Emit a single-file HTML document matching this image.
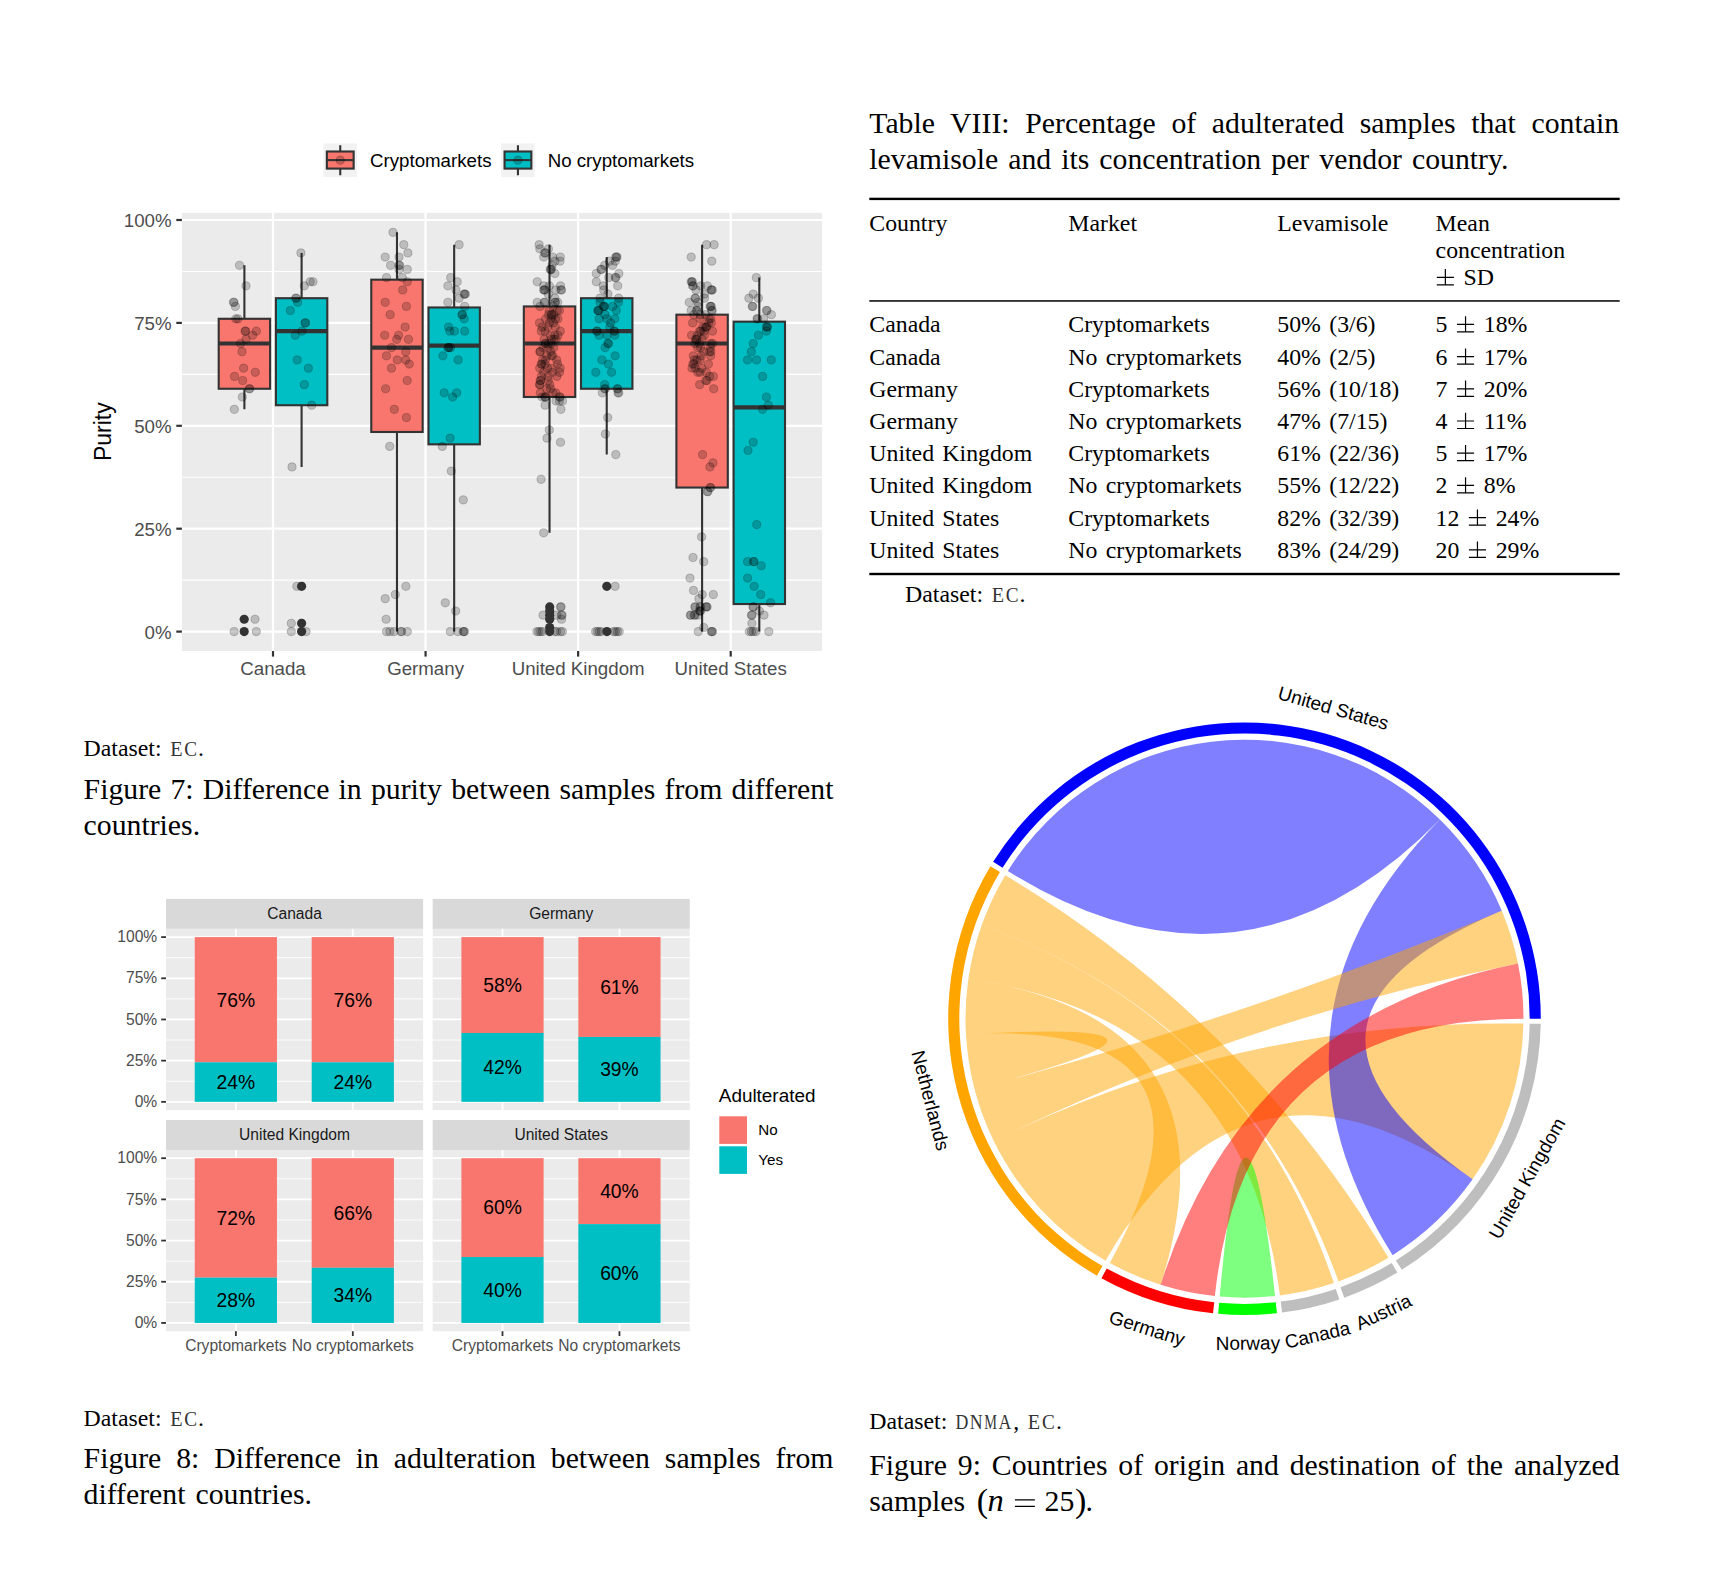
<!DOCTYPE html>
<html><head><meta charset="utf-8"><title>page</title><style>
html,body{margin:0;padding:0;background:#fff}
body{width:1720px;height:1585px;position:relative;overflow:hidden}
svg{position:absolute;left:0;top:0}
text{white-space:pre}
.se{font-family:"Liberation Serif", serif;fill:#000}
.sa{font-family:"Liberation Sans", sans-serif}
.mo{font-family:"Liberation Mono", monospace}
.c10{font-size:29.76px;word-spacing:2.6px}.c8{font-size:23.8px;word-spacing:2.35px}
.ax{font-size:18.7px;fill:#4d4d4d}.ax8{font-size:15.6px;fill:#4d4d4d}
</style></head><body>
<svg width="1720" height="1585" viewBox="0 0 1720 1585">
<g id="fig7">
<rect x="181.9" y="212.9" width="640.2" height="438.1" fill="#ebebeb"/>
<line x1="181.9" x2="822.1" y1="580.15" y2="580.15" stroke="#fff" stroke-width="1.1"/>
<line x1="181.9" x2="822.1" y1="477.25" y2="477.25" stroke="#fff" stroke-width="1.1"/>
<line x1="181.9" x2="822.1" y1="374.35" y2="374.35" stroke="#fff" stroke-width="1.1"/>
<line x1="181.9" x2="822.1" y1="271.45" y2="271.45" stroke="#fff" stroke-width="1.1"/>
<line x1="181.9" x2="822.1" y1="631.6" y2="631.6" stroke="#fff" stroke-width="2.2"/>
<line x1="181.9" x2="822.1" y1="528.7" y2="528.7" stroke="#fff" stroke-width="2.2"/>
<line x1="181.9" x2="822.1" y1="425.8" y2="425.8" stroke="#fff" stroke-width="2.2"/>
<line x1="181.9" x2="822.1" y1="322.9" y2="322.9" stroke="#fff" stroke-width="2.2"/>
<line x1="181.9" x2="822.1" y1="220" y2="220" stroke="#fff" stroke-width="2.2"/>
<line x1="273" x2="273" y1="212.9" y2="651" stroke="#fff" stroke-width="2.2"/>
<line x1="425.57" x2="425.57" y1="212.9" y2="651" stroke="#fff" stroke-width="2.2"/>
<line x1="578.13" x2="578.13" y1="212.9" y2="651" stroke="#fff" stroke-width="2.2"/>
<line x1="730.7" x2="730.7" y1="212.9" y2="651" stroke="#fff" stroke-width="2.2"/>
<path d="M244.4 265.28V318.78M244.4 388.76V409.34" stroke="#333" stroke-width="2.1" fill="none"/>
<rect x="218.7" y="318.78" width="51.4" height="69.97" fill="#F8766D" stroke="#333" stroke-width="2.1"/>
<line x1="218.7" x2="270.1" y1="343.48" y2="343.48" stroke="#333" stroke-width="4.2"/>
<path d="M301.6 252.93V298.2M301.6 405.22V466.96" stroke="#333" stroke-width="2.1" fill="none"/>
<rect x="275.9" y="298.2" width="51.4" height="107.02" fill="#00BFC4" stroke="#333" stroke-width="2.1"/>
<line x1="275.9" x2="327.3" y1="331.13" y2="331.13" stroke="#333" stroke-width="4.2"/>
<path d="M396.97 232.35V279.68M396.97 431.97V631.6" stroke="#333" stroke-width="2.1" fill="none"/>
<rect x="371.27" y="279.68" width="51.4" height="152.29" fill="#F8766D" stroke="#333" stroke-width="2.1"/>
<line x1="371.27" x2="422.67" y1="347.6" y2="347.6" stroke="#333" stroke-width="4.2"/>
<path d="M454.17 244.7V307.47M454.17 444.32V631.6" stroke="#333" stroke-width="2.1" fill="none"/>
<rect x="428.47" y="307.47" width="51.4" height="136.86" fill="#00BFC4" stroke="#333" stroke-width="2.1"/>
<line x1="428.47" x2="479.87" y1="345.54" y2="345.54" stroke="#333" stroke-width="4.2"/>
<path d="M549.53 244.7V306.44M549.53 396.99V532.82" stroke="#333" stroke-width="2.1" fill="none"/>
<rect x="523.83" y="306.44" width="51.4" height="90.55" fill="#F8766D" stroke="#333" stroke-width="2.1"/>
<line x1="523.83" x2="575.23" y1="343.48" y2="343.48" stroke="#333" stroke-width="4.2"/>
<path d="M606.73 257.04V298.2M606.73 388.76V454.61" stroke="#333" stroke-width="2.1" fill="none"/>
<rect x="581.03" y="298.2" width="51.4" height="90.55" fill="#00BFC4" stroke="#333" stroke-width="2.1"/>
<line x1="581.03" x2="632.43" y1="331.13" y2="331.13" stroke="#333" stroke-width="4.2"/>
<path d="M702.1 244.7V314.67M702.1 487.54V631.6" stroke="#333" stroke-width="2.1" fill="none"/>
<rect x="676.4" y="314.67" width="51.4" height="172.87" fill="#F8766D" stroke="#333" stroke-width="2.1"/>
<line x1="676.4" x2="727.8" y1="343.48" y2="343.48" stroke="#333" stroke-width="4.2"/>
<path d="M759.3 277.62V321.67M759.3 604.02V631.6" stroke="#333" stroke-width="2.1" fill="none"/>
<rect x="733.6" y="321.67" width="51.4" height="282.36" fill="#00BFC4" stroke="#333" stroke-width="2.1"/>
<line x1="733.6" x2="785" y1="407.28" y2="407.28" stroke="#333" stroke-width="4.2"/>
<g fill="#000" fill-opacity="0.2" stroke="#000" stroke-opacity="0.2" stroke-width="1">
<circle cx="239.5" cy="265.28" r="4.1"/>
<circle cx="246" cy="285.86" r="4.1"/>
<circle cx="233.4" cy="302.32" r="4.1"/>
<circle cx="234" cy="302.32" r="4.1"/>
<circle cx="235.4" cy="306.44" r="4.1"/>
<circle cx="235.8" cy="318.78" r="4.1"/>
<circle cx="238" cy="318.78" r="4.1"/>
<circle cx="245.1" cy="331.13" r="4.1"/>
<circle cx="245.7" cy="331.13" r="4.1"/>
<circle cx="256.3" cy="331.13" r="4.1"/>
<circle cx="252.6" cy="335.25" r="4.1"/>
<circle cx="246" cy="339.36" r="4.1"/>
<circle cx="240.5" cy="343.48" r="4.1"/>
<circle cx="242" cy="351.71" r="4.1"/>
<circle cx="243.6" cy="368.18" r="4.1"/>
<circle cx="255.3" cy="372.29" r="4.1"/>
<circle cx="234.5" cy="376.41" r="4.1"/>
<circle cx="242.7" cy="380.52" r="4.1"/>
<circle cx="249.2" cy="388.76" r="4.1"/>
<circle cx="249.8" cy="388.76" r="4.1"/>
<circle cx="242.3" cy="396.99" r="4.1"/>
<circle cx="234.3" cy="409.34" r="4.1"/>
<circle cx="255" cy="619.25" r="4.1"/>
<circle cx="234.1" cy="631.6" r="4.1"/>
<circle cx="256.3" cy="631.6" r="4.1"/>
<circle cx="300.9" cy="252.93" r="4.1"/>
<circle cx="310.2" cy="281.74" r="4.1"/>
<circle cx="313" cy="281.74" r="4.1"/>
<circle cx="304.3" cy="285.86" r="4.1"/>
<circle cx="295.7" cy="298.2" r="4.1"/>
<circle cx="296.3" cy="298.2" r="4.1"/>
<circle cx="297.6" cy="302.32" r="4.1"/>
<circle cx="290.3" cy="310.55" r="4.1"/>
<circle cx="305" cy="322.9" r="4.1"/>
<circle cx="305.6" cy="322.9" r="4.1"/>
<circle cx="301.9" cy="331.13" r="4.1"/>
<circle cx="295.3" cy="335.25" r="4.1"/>
<circle cx="297.2" cy="359.94" r="4.1"/>
<circle cx="308.4" cy="368.18" r="4.1"/>
<circle cx="304.3" cy="384.64" r="4.1"/>
<circle cx="311.7" cy="405.22" r="4.1"/>
<circle cx="292" cy="466.96" r="4.1"/>
<circle cx="296.8" cy="586.32" r="4.1"/>
<circle cx="291.3" cy="623.37" r="4.1"/>
<circle cx="291.3" cy="631.6" r="4.1"/>
<circle cx="306.1" cy="631.6" r="4.1"/>
<circle cx="393" cy="232.35" r="4.1"/>
<circle cx="403.8" cy="244.7" r="4.1"/>
<circle cx="407.9" cy="252.93" r="4.1"/>
<circle cx="385.2" cy="257.04" r="4.1"/>
<circle cx="399" cy="257.04" r="4.1"/>
<circle cx="390.6" cy="265.28" r="4.1"/>
<circle cx="399" cy="265.28" r="4.1"/>
<circle cx="399.6" cy="265.28" r="4.1"/>
<circle cx="407.3" cy="269.39" r="4.1"/>
<circle cx="399" cy="269.39" r="4.1"/>
<circle cx="386.5" cy="277.62" r="4.1"/>
<circle cx="402.3" cy="277.62" r="4.1"/>
<circle cx="407.3" cy="281.74" r="4.1"/>
<circle cx="402.7" cy="289.97" r="4.1"/>
<circle cx="385.2" cy="302.32" r="4.1"/>
<circle cx="406.4" cy="306.44" r="4.1"/>
<circle cx="390.2" cy="314.67" r="4.1"/>
<circle cx="405.1" cy="327.02" r="4.1"/>
<circle cx="384.7" cy="335.25" r="4.1"/>
<circle cx="398.6" cy="335.25" r="4.1"/>
<circle cx="396.7" cy="339.36" r="4.1"/>
<circle cx="408.5" cy="339.36" r="4.1"/>
<circle cx="391.5" cy="347.6" r="4.1"/>
<circle cx="405.7" cy="351.71" r="4.1"/>
<circle cx="386.5" cy="355.83" r="4.1"/>
<circle cx="397.3" cy="359.94" r="4.1"/>
<circle cx="405.7" cy="359.94" r="4.1"/>
<circle cx="409.2" cy="364.06" r="4.1"/>
<circle cx="391.5" cy="368.18" r="4.1"/>
<circle cx="407.2" cy="380.52" r="4.1"/>
<circle cx="385.6" cy="388.76" r="4.1"/>
<circle cx="394.3" cy="409.34" r="4.1"/>
<circle cx="406.4" cy="417.57" r="4.1"/>
<circle cx="389.7" cy="446.38" r="4.1"/>
<circle cx="405.9" cy="586.32" r="4.1"/>
<circle cx="395.3" cy="594.56" r="4.1"/>
<circle cx="385.2" cy="598.67" r="4.1"/>
<circle cx="386.1" cy="619.25" r="4.1"/>
<circle cx="386.5" cy="631.6" r="4.1"/>
<circle cx="389.9" cy="631.6" r="4.1"/>
<circle cx="394" cy="631.6" r="4.1"/>
<circle cx="401" cy="631.6" r="4.1"/>
<circle cx="401.6" cy="631.6" r="4.1"/>
<circle cx="407.3" cy="631.6" r="4.1"/>
<circle cx="459.1" cy="244.7" r="4.1"/>
<circle cx="450.7" cy="277.62" r="4.1"/>
<circle cx="457.2" cy="281.74" r="4.1"/>
<circle cx="447.9" cy="285.86" r="4.1"/>
<circle cx="455.9" cy="289.97" r="4.1"/>
<circle cx="464.1" cy="294.09" r="4.1"/>
<circle cx="464.7" cy="294.09" r="4.1"/>
<circle cx="465.3" cy="294.09" r="4.1"/>
<circle cx="459.1" cy="298.2" r="4.1"/>
<circle cx="447.9" cy="302.32" r="4.1"/>
<circle cx="464.7" cy="306.44" r="4.1"/>
<circle cx="461.9" cy="314.67" r="4.1"/>
<circle cx="462.5" cy="314.67" r="4.1"/>
<circle cx="464.1" cy="318.78" r="4.1"/>
<circle cx="448.5" cy="327.02" r="4.1"/>
<circle cx="449.8" cy="331.13" r="4.1"/>
<circle cx="454.4" cy="331.13" r="4.1"/>
<circle cx="464.7" cy="331.13" r="4.1"/>
<circle cx="447.9" cy="347.6" r="4.1"/>
<circle cx="448.5" cy="347.6" r="4.1"/>
<circle cx="449.1" cy="347.6" r="4.1"/>
<circle cx="450.7" cy="347.6" r="4.1"/>
<circle cx="442.9" cy="355.83" r="4.1"/>
<circle cx="458.1" cy="359.94" r="4.1"/>
<circle cx="444.2" cy="392.87" r="4.1"/>
<circle cx="456.7" cy="392.87" r="4.1"/>
<circle cx="452.6" cy="396.99" r="4.1"/>
<circle cx="450.1" cy="438.15" r="4.1"/>
<circle cx="442.3" cy="446.38" r="4.1"/>
<circle cx="451.3" cy="471.08" r="4.1"/>
<circle cx="463.3" cy="499.89" r="4.1"/>
<circle cx="445.3" cy="602.79" r="4.1"/>
<circle cx="455.7" cy="611.02" r="4.1"/>
<circle cx="450.3" cy="631.6" r="4.1"/>
<circle cx="457.8" cy="631.6" r="4.1"/>
<circle cx="463.2" cy="631.6" r="4.1"/>
<circle cx="463.8" cy="631.6" r="4.1"/>
<circle cx="464.4" cy="631.6" r="4.1"/>
<circle cx="539.1" cy="244.7" r="4.1"/>
<circle cx="539.8" cy="248.81" r="4.1"/>
<circle cx="548.4" cy="248.81" r="4.1"/>
<circle cx="544.7" cy="252.93" r="4.1"/>
<circle cx="545.3" cy="252.93" r="4.1"/>
<circle cx="543.7" cy="257.04" r="4.1"/>
<circle cx="552.6" cy="257.04" r="4.1"/>
<circle cx="560.3" cy="257.04" r="4.1"/>
<circle cx="560" cy="261.16" r="4.1"/>
<circle cx="554.9" cy="261.16" r="4.1"/>
<circle cx="552.1" cy="265.28" r="4.1"/>
<circle cx="550.2" cy="269.39" r="4.1"/>
<circle cx="550.8" cy="269.39" r="4.1"/>
<circle cx="551.4" cy="269.39" r="4.1"/>
<circle cx="554.9" cy="273.51" r="4.1"/>
<circle cx="537.2" cy="281.74" r="4.1"/>
<circle cx="543.7" cy="285.86" r="4.1"/>
<circle cx="549.3" cy="285.86" r="4.1"/>
<circle cx="560.5" cy="285.86" r="4.1"/>
<circle cx="543.7" cy="289.97" r="4.1"/>
<circle cx="544.3" cy="289.97" r="4.1"/>
<circle cx="544.9" cy="289.97" r="4.1"/>
<circle cx="555.8" cy="289.97" r="4.1"/>
<circle cx="560.9" cy="289.97" r="4.1"/>
<circle cx="561.5" cy="289.97" r="4.1"/>
<circle cx="548.4" cy="294.09" r="4.1"/>
<circle cx="554.9" cy="298.2" r="4.1"/>
<circle cx="537.2" cy="302.32" r="4.1"/>
<circle cx="544.2" cy="302.32" r="4.1"/>
<circle cx="544.8" cy="302.32" r="4.1"/>
<circle cx="554.9" cy="302.32" r="4.1"/>
<circle cx="555.5" cy="302.32" r="4.1"/>
<circle cx="557.7" cy="302.32" r="4.1"/>
<circle cx="544.7" cy="396.99" r="4.1"/>
<circle cx="545.3" cy="396.99" r="4.1"/>
<circle cx="555.8" cy="392.87" r="4.1"/>
<circle cx="559.5" cy="396.99" r="4.1"/>
<circle cx="560.1" cy="396.99" r="4.1"/>
<circle cx="556" cy="401.1" r="4.1"/>
<circle cx="559.5" cy="401.1" r="4.1"/>
<circle cx="562.5" cy="401.1" r="4.1"/>
<circle cx="545.1" cy="405.22" r="4.1"/>
<circle cx="560.9" cy="409.34" r="4.1"/>
<circle cx="549.3" cy="429.92" r="4.1"/>
<circle cx="547" cy="438.15" r="4.1"/>
<circle cx="560.5" cy="442.26" r="4.1"/>
<circle cx="541.1" cy="479.31" r="4.1"/>
<circle cx="543.7" cy="532.82" r="4.1"/>
<circle cx="560.5" cy="606.9" r="4.1"/>
<circle cx="561.1" cy="606.9" r="4.1"/>
<circle cx="543" cy="615.14" r="4.1"/>
<circle cx="556.8" cy="615.14" r="4.1"/>
<circle cx="561.5" cy="615.14" r="4.1"/>
<circle cx="562.1" cy="615.14" r="4.1"/>
<circle cx="561.5" cy="619.25" r="4.1"/>
<circle cx="536.9" cy="631.6" r="4.1"/>
<circle cx="538.8" cy="631.6" r="4.1"/>
<circle cx="540.7" cy="631.6" r="4.1"/>
<circle cx="542.6" cy="631.6" r="4.1"/>
<circle cx="554.9" cy="631.6" r="4.1"/>
<circle cx="556.8" cy="631.6" r="4.1"/>
<circle cx="560.5" cy="631.6" r="4.1"/>
<circle cx="562.4" cy="631.6" r="4.1"/>
<circle cx="545.82" cy="396.99" r="4.1"/>
<circle cx="542.02" cy="396.99" r="4.1"/>
<circle cx="553.02" cy="392.87" r="4.1"/>
<circle cx="540.29" cy="392.87" r="4.1"/>
<circle cx="550.49" cy="388.76" r="4.1"/>
<circle cx="546.75" cy="388.76" r="4.1"/>
<circle cx="539.98" cy="384.64" r="4.1"/>
<circle cx="549.86" cy="384.64" r="4.1"/>
<circle cx="539.52" cy="384.64" r="4.1"/>
<circle cx="548.24" cy="380.52" r="4.1"/>
<circle cx="540.24" cy="380.52" r="4.1"/>
<circle cx="540.7" cy="380.52" r="4.1"/>
<circle cx="548.04" cy="376.41" r="4.1"/>
<circle cx="556.89" cy="376.41" r="4.1"/>
<circle cx="541.42" cy="376.41" r="4.1"/>
<circle cx="543.61" cy="372.29" r="4.1"/>
<circle cx="552.5" cy="372.29" r="4.1"/>
<circle cx="559.55" cy="372.29" r="4.1"/>
<circle cx="551.4" cy="368.18" r="4.1"/>
<circle cx="547.43" cy="368.18" r="4.1"/>
<circle cx="560.18" cy="368.18" r="4.1"/>
<circle cx="539.72" cy="368.18" r="4.1"/>
<circle cx="557.59" cy="364.06" r="4.1"/>
<circle cx="545.07" cy="364.06" r="4.1"/>
<circle cx="541.87" cy="364.06" r="4.1"/>
<circle cx="541.29" cy="364.06" r="4.1"/>
<circle cx="545.49" cy="359.94" r="4.1"/>
<circle cx="556.65" cy="359.94" r="4.1"/>
<circle cx="542.68" cy="359.94" r="4.1"/>
<circle cx="551.5" cy="355.83" r="4.1"/>
<circle cx="552.76" cy="355.83" r="4.1"/>
<circle cx="546.89" cy="355.83" r="4.1"/>
<circle cx="550.75" cy="351.71" r="4.1"/>
<circle cx="540.08" cy="351.71" r="4.1"/>
<circle cx="540.01" cy="351.71" r="4.1"/>
<circle cx="543.23" cy="347.6" r="4.1"/>
<circle cx="553.67" cy="347.6" r="4.1"/>
<circle cx="548.11" cy="347.6" r="4.1"/>
<circle cx="545.61" cy="343.48" r="4.1"/>
<circle cx="551.58" cy="343.48" r="4.1"/>
<circle cx="548.67" cy="343.48" r="4.1"/>
<circle cx="545.29" cy="343.48" r="4.1"/>
<circle cx="556.18" cy="339.36" r="4.1"/>
<circle cx="554.08" cy="339.36" r="4.1"/>
<circle cx="544.07" cy="339.36" r="4.1"/>
<circle cx="551.34" cy="339.36" r="4.1"/>
<circle cx="550.25" cy="335.25" r="4.1"/>
<circle cx="557.95" cy="335.25" r="4.1"/>
<circle cx="554.75" cy="335.25" r="4.1"/>
<circle cx="545.03" cy="331.13" r="4.1"/>
<circle cx="560.26" cy="331.13" r="4.1"/>
<circle cx="541.3" cy="331.13" r="4.1"/>
<circle cx="547.9" cy="327.02" r="4.1"/>
<circle cx="555.36" cy="327.02" r="4.1"/>
<circle cx="542.04" cy="327.02" r="4.1"/>
<circle cx="549.46" cy="322.9" r="4.1"/>
<circle cx="539.56" cy="322.9" r="4.1"/>
<circle cx="553.4" cy="322.9" r="4.1"/>
<circle cx="555.52" cy="318.78" r="4.1"/>
<circle cx="551.31" cy="318.78" r="4.1"/>
<circle cx="557.96" cy="318.78" r="4.1"/>
<circle cx="545.6" cy="318.78" r="4.1"/>
<circle cx="554" cy="314.67" r="4.1"/>
<circle cx="551.78" cy="314.67" r="4.1"/>
<circle cx="551.46" cy="314.67" r="4.1"/>
<circle cx="548.74" cy="314.67" r="4.1"/>
<circle cx="557.18" cy="310.55" r="4.1"/>
<circle cx="559.48" cy="310.55" r="4.1"/>
<circle cx="549.13" cy="310.55" r="4.1"/>
<circle cx="553.31" cy="306.44" r="4.1"/>
<circle cx="540.03" cy="306.44" r="4.1"/>
<circle cx="615.8" cy="257.04" r="4.1"/>
<circle cx="616.4" cy="257.04" r="4.1"/>
<circle cx="617" cy="257.04" r="4.1"/>
<circle cx="609.5" cy="261.16" r="4.1"/>
<circle cx="615.3" cy="261.16" r="4.1"/>
<circle cx="604.7" cy="265.28" r="4.1"/>
<circle cx="612.6" cy="265.28" r="4.1"/>
<circle cx="600.9" cy="269.39" r="4.1"/>
<circle cx="601.5" cy="269.39" r="4.1"/>
<circle cx="596.3" cy="273.51" r="4.1"/>
<circle cx="618.9" cy="273.51" r="4.1"/>
<circle cx="608.8" cy="277.62" r="4.1"/>
<circle cx="615.3" cy="277.62" r="4.1"/>
<circle cx="615.9" cy="277.62" r="4.1"/>
<circle cx="596.3" cy="281.74" r="4.1"/>
<circle cx="603.3" cy="285.86" r="4.1"/>
<circle cx="617.7" cy="285.86" r="4.1"/>
<circle cx="603.7" cy="289.97" r="4.1"/>
<circle cx="607.9" cy="294.09" r="4.1"/>
<circle cx="600" cy="298.2" r="4.1"/>
<circle cx="618.6" cy="298.2" r="4.1"/>
<circle cx="600" cy="302.32" r="4.1"/>
<circle cx="618.6" cy="302.32" r="4.1"/>
<circle cx="603.3" cy="306.44" r="4.1"/>
<circle cx="603.9" cy="306.44" r="4.1"/>
<circle cx="604.5" cy="306.44" r="4.1"/>
<circle cx="597.7" cy="310.55" r="4.1"/>
<circle cx="598.3" cy="310.55" r="4.1"/>
<circle cx="598.9" cy="310.55" r="4.1"/>
<circle cx="612.6" cy="306.44" r="4.1"/>
<circle cx="616.3" cy="310.55" r="4.1"/>
<circle cx="605.1" cy="314.67" r="4.1"/>
<circle cx="599.1" cy="318.78" r="4.1"/>
<circle cx="607" cy="318.78" r="4.1"/>
<circle cx="614.9" cy="318.78" r="4.1"/>
<circle cx="610.7" cy="322.9" r="4.1"/>
<circle cx="609.8" cy="327.02" r="4.1"/>
<circle cx="596.7" cy="331.13" r="4.1"/>
<circle cx="597.3" cy="331.13" r="4.1"/>
<circle cx="614" cy="331.13" r="4.1"/>
<circle cx="614.6" cy="331.13" r="4.1"/>
<circle cx="599.1" cy="335.25" r="4.1"/>
<circle cx="607" cy="335.25" r="4.1"/>
<circle cx="614.9" cy="335.25" r="4.1"/>
<circle cx="607.9" cy="343.48" r="4.1"/>
<circle cx="608.5" cy="343.48" r="4.1"/>
<circle cx="605.1" cy="347.6" r="4.1"/>
<circle cx="615.1" cy="355.83" r="4.1"/>
<circle cx="601.9" cy="359.94" r="4.1"/>
<circle cx="608.4" cy="364.06" r="4.1"/>
<circle cx="595.8" cy="372.29" r="4.1"/>
<circle cx="611.6" cy="372.29" r="4.1"/>
<circle cx="604.7" cy="384.64" r="4.1"/>
<circle cx="604.7" cy="388.76" r="4.1"/>
<circle cx="605.3" cy="388.76" r="4.1"/>
<circle cx="617.2" cy="388.76" r="4.1"/>
<circle cx="617.8" cy="388.76" r="4.1"/>
<circle cx="602.3" cy="392.87" r="4.1"/>
<circle cx="618.1" cy="392.87" r="4.1"/>
<circle cx="618.7" cy="392.87" r="4.1"/>
<circle cx="607.7" cy="417.57" r="4.1"/>
<circle cx="605.4" cy="434.03" r="4.1"/>
<circle cx="615.8" cy="454.61" r="4.1"/>
<circle cx="615.1" cy="586.32" r="4.1"/>
<circle cx="595.6" cy="631.6" r="4.1"/>
<circle cx="597.4" cy="631.6" r="4.1"/>
<circle cx="599.3" cy="631.6" r="4.1"/>
<circle cx="601.2" cy="631.6" r="4.1"/>
<circle cx="613.5" cy="631.6" r="4.1"/>
<circle cx="615.4" cy="631.6" r="4.1"/>
<circle cx="617.3" cy="631.6" r="4.1"/>
<circle cx="619.2" cy="631.6" r="4.1"/>
<circle cx="706.6" cy="244.7" r="4.1"/>
<circle cx="714.1" cy="244.7" r="4.1"/>
<circle cx="691.2" cy="257.04" r="4.1"/>
<circle cx="711.8" cy="261.16" r="4.1"/>
<circle cx="691.2" cy="281.74" r="4.1"/>
<circle cx="691.8" cy="281.74" r="4.1"/>
<circle cx="692.4" cy="281.74" r="4.1"/>
<circle cx="692.6" cy="285.86" r="4.1"/>
<circle cx="693.2" cy="285.86" r="4.1"/>
<circle cx="700.7" cy="285.86" r="4.1"/>
<circle cx="707.3" cy="285.86" r="4.1"/>
<circle cx="711.1" cy="289.97" r="4.1"/>
<circle cx="711.7" cy="289.97" r="4.1"/>
<circle cx="712.3" cy="289.97" r="4.1"/>
<circle cx="696" cy="289.97" r="4.1"/>
<circle cx="704.5" cy="294.09" r="4.1"/>
<circle cx="695" cy="298.2" r="4.1"/>
<circle cx="695.6" cy="298.2" r="4.1"/>
<circle cx="704.5" cy="298.2" r="4.1"/>
<circle cx="689.3" cy="302.32" r="4.1"/>
<circle cx="697.8" cy="302.32" r="4.1"/>
<circle cx="710.1" cy="306.44" r="4.1"/>
<circle cx="710.7" cy="306.44" r="4.1"/>
<circle cx="711.3" cy="306.44" r="4.1"/>
<circle cx="697.8" cy="306.44" r="4.1"/>
<circle cx="691.2" cy="310.55" r="4.1"/>
<circle cx="696.4" cy="310.55" r="4.1"/>
<circle cx="697" cy="310.55" r="4.1"/>
<circle cx="711.6" cy="310.55" r="4.1"/>
<circle cx="712.2" cy="310.55" r="4.1"/>
<circle cx="699.7" cy="384.64" r="4.1"/>
<circle cx="713.7" cy="388.76" r="4.1"/>
<circle cx="702.6" cy="454.61" r="4.1"/>
<circle cx="713" cy="462.84" r="4.1"/>
<circle cx="709.9" cy="466.96" r="4.1"/>
<circle cx="710.1" cy="487.54" r="4.1"/>
<circle cx="710.7" cy="487.54" r="4.1"/>
<circle cx="707.3" cy="491.66" r="4.1"/>
<circle cx="707.9" cy="491.66" r="4.1"/>
<circle cx="701.6" cy="536.93" r="4.1"/>
<circle cx="693" cy="557.51" r="4.1"/>
<circle cx="703.7" cy="561.63" r="4.1"/>
<circle cx="690" cy="578.09" r="4.1"/>
<circle cx="693.5" cy="590.44" r="4.1"/>
<circle cx="702.2" cy="594.56" r="4.1"/>
<circle cx="713.3" cy="594.56" r="4.1"/>
<circle cx="698.9" cy="598.67" r="4.1"/>
<circle cx="694.8" cy="606.9" r="4.1"/>
<circle cx="695.4" cy="606.9" r="4.1"/>
<circle cx="700" cy="606.9" r="4.1"/>
<circle cx="700.6" cy="606.9" r="4.1"/>
<circle cx="705.9" cy="606.9" r="4.1"/>
<circle cx="706.5" cy="606.9" r="4.1"/>
<circle cx="707.1" cy="606.9" r="4.1"/>
<circle cx="699.4" cy="611.02" r="4.1"/>
<circle cx="700" cy="611.02" r="4.1"/>
<circle cx="700.6" cy="611.02" r="4.1"/>
<circle cx="690.3" cy="615.14" r="4.1"/>
<circle cx="690.9" cy="615.14" r="4.1"/>
<circle cx="694.3" cy="615.14" r="4.1"/>
<circle cx="694.9" cy="615.14" r="4.1"/>
<circle cx="697.9" cy="615.14" r="4.1"/>
<circle cx="703.7" cy="627.48" r="4.1"/>
<circle cx="698.2" cy="631.6" r="4.1"/>
<circle cx="711.3" cy="631.6" r="4.1"/>
<circle cx="711.9" cy="631.6" r="4.1"/>
<circle cx="712.5" cy="631.6" r="4.1"/>
<circle cx="706.93" cy="380.52" r="4.1"/>
<circle cx="705.74" cy="380.52" r="4.1"/>
<circle cx="713.35" cy="376.41" r="4.1"/>
<circle cx="709.58" cy="376.41" r="4.1"/>
<circle cx="697.76" cy="372.29" r="4.1"/>
<circle cx="699.99" cy="372.29" r="4.1"/>
<circle cx="706.21" cy="372.29" r="4.1"/>
<circle cx="692" cy="368.18" r="4.1"/>
<circle cx="701.66" cy="368.18" r="4.1"/>
<circle cx="695.2" cy="368.18" r="4.1"/>
<circle cx="694.08" cy="364.06" r="4.1"/>
<circle cx="692.8" cy="364.06" r="4.1"/>
<circle cx="708.4" cy="364.06" r="4.1"/>
<circle cx="694.35" cy="359.94" r="4.1"/>
<circle cx="696.95" cy="359.94" r="4.1"/>
<circle cx="700.1" cy="359.94" r="4.1"/>
<circle cx="710.67" cy="355.83" r="4.1"/>
<circle cx="693.27" cy="355.83" r="4.1"/>
<circle cx="701.38" cy="355.83" r="4.1"/>
<circle cx="703.59" cy="351.71" r="4.1"/>
<circle cx="710.93" cy="351.71" r="4.1"/>
<circle cx="709.52" cy="351.71" r="4.1"/>
<circle cx="710.51" cy="347.6" r="4.1"/>
<circle cx="697.63" cy="347.6" r="4.1"/>
<circle cx="700.64" cy="347.6" r="4.1"/>
<circle cx="699.39" cy="343.48" r="4.1"/>
<circle cx="710.95" cy="343.48" r="4.1"/>
<circle cx="712.57" cy="343.48" r="4.1"/>
<circle cx="694.82" cy="343.48" r="4.1"/>
<circle cx="695.38" cy="339.36" r="4.1"/>
<circle cx="696.6" cy="339.36" r="4.1"/>
<circle cx="696.63" cy="339.36" r="4.1"/>
<circle cx="702.17" cy="339.36" r="4.1"/>
<circle cx="704.46" cy="335.25" r="4.1"/>
<circle cx="697.28" cy="335.25" r="4.1"/>
<circle cx="691.59" cy="335.25" r="4.1"/>
<circle cx="700.72" cy="331.13" r="4.1"/>
<circle cx="699.62" cy="331.13" r="4.1"/>
<circle cx="703.96" cy="331.13" r="4.1"/>
<circle cx="712.47" cy="331.13" r="4.1"/>
<circle cx="706.69" cy="327.02" r="4.1"/>
<circle cx="702.84" cy="327.02" r="4.1"/>
<circle cx="705.09" cy="327.02" r="4.1"/>
<circle cx="706.38" cy="327.02" r="4.1"/>
<circle cx="692.69" cy="322.9" r="4.1"/>
<circle cx="711.29" cy="322.9" r="4.1"/>
<circle cx="708.66" cy="322.9" r="4.1"/>
<circle cx="710.74" cy="318.78" r="4.1"/>
<circle cx="709.05" cy="318.78" r="4.1"/>
<circle cx="700.13" cy="318.78" r="4.1"/>
<circle cx="700.28" cy="314.67" r="4.1"/>
<circle cx="693.78" cy="314.67" r="4.1"/>
<circle cx="705.45" cy="314.67" r="4.1"/>
<circle cx="756.3" cy="277.62" r="4.1"/>
<circle cx="753.2" cy="294.09" r="4.1"/>
<circle cx="748.9" cy="298.2" r="4.1"/>
<circle cx="758.4" cy="298.2" r="4.1"/>
<circle cx="752.2" cy="306.44" r="4.1"/>
<circle cx="752.8" cy="306.44" r="4.1"/>
<circle cx="766.4" cy="310.55" r="4.1"/>
<circle cx="767" cy="310.55" r="4.1"/>
<circle cx="771.4" cy="314.67" r="4.1"/>
<circle cx="757" cy="318.78" r="4.1"/>
<circle cx="757.6" cy="318.78" r="4.1"/>
<circle cx="763.6" cy="318.78" r="4.1"/>
<circle cx="766.4" cy="327.02" r="4.1"/>
<circle cx="767" cy="327.02" r="4.1"/>
<circle cx="767.6" cy="327.02" r="4.1"/>
<circle cx="766.4" cy="331.13" r="4.1"/>
<circle cx="758.4" cy="335.25" r="4.1"/>
<circle cx="753.2" cy="343.48" r="4.1"/>
<circle cx="751.3" cy="351.71" r="4.1"/>
<circle cx="747.5" cy="359.94" r="4.1"/>
<circle cx="756.5" cy="359.94" r="4.1"/>
<circle cx="771.2" cy="359.94" r="4.1"/>
<circle cx="762.6" cy="376.41" r="4.1"/>
<circle cx="766.4" cy="396.99" r="4.1"/>
<circle cx="768.3" cy="405.22" r="4.1"/>
<circle cx="762.6" cy="409.34" r="4.1"/>
<circle cx="753.2" cy="442.26" r="4.1"/>
<circle cx="748" cy="450.5" r="4.1"/>
<circle cx="756.7" cy="524.58" r="4.1"/>
<circle cx="747.6" cy="561.63" r="4.1"/>
<circle cx="753.4" cy="561.63" r="4.1"/>
<circle cx="754" cy="561.63" r="4.1"/>
<circle cx="761.2" cy="565.74" r="4.1"/>
<circle cx="747.6" cy="578.09" r="4.1"/>
<circle cx="754.1" cy="586.32" r="4.1"/>
<circle cx="760.7" cy="594.56" r="4.1"/>
<circle cx="770.5" cy="602.79" r="4.1"/>
<circle cx="752.9" cy="606.9" r="4.1"/>
<circle cx="753.5" cy="606.9" r="4.1"/>
<circle cx="759.4" cy="611.02" r="4.1"/>
<circle cx="751.4" cy="615.14" r="4.1"/>
<circle cx="752" cy="615.14" r="4.1"/>
<circle cx="764" cy="615.14" r="4.1"/>
<circle cx="751.9" cy="623.37" r="4.1"/>
<circle cx="749.3" cy="631.6" r="4.1"/>
<circle cx="751.4" cy="631.6" r="4.1"/>
<circle cx="753.4" cy="631.6" r="4.1"/>
<circle cx="755.9" cy="631.6" r="4.1"/>
<circle cx="768.8" cy="631.6" r="4.1"/>
</g><g fill="#333">
<circle cx="244.2" cy="619.25" r="4.6"/>
<circle cx="244.2" cy="631.6" r="4.6"/>
<circle cx="301.6" cy="586.32" r="4.6"/>
<circle cx="301.6" cy="623.37" r="4.6"/>
<circle cx="301.6" cy="631.6" r="4.6"/>
<circle cx="549.7" cy="606.9" r="4.6"/>
<circle cx="549.7" cy="611.02" r="4.6"/>
<circle cx="549.7" cy="615.14" r="4.6"/>
<circle cx="549.7" cy="619.25" r="4.6"/>
<circle cx="549.7" cy="627.48" r="4.6"/>
<circle cx="549.7" cy="631.6" r="4.6"/>
<circle cx="606.8" cy="586.32" r="4.6"/>
<circle cx="606.9" cy="631.6" r="4.6"/>
</g>
<line x1="176.3" x2="181.9" y1="631.6" y2="631.6" stroke="#333" stroke-width="2.2"/>
<text x="171.6" y="638.5" text-anchor="end" class="sa ax">0%</text>
<line x1="176.3" x2="181.9" y1="528.7" y2="528.7" stroke="#333" stroke-width="2.2"/>
<text x="171.6" y="535.6" text-anchor="end" class="sa ax">25%</text>
<line x1="176.3" x2="181.9" y1="425.8" y2="425.8" stroke="#333" stroke-width="2.2"/>
<text x="171.6" y="432.7" text-anchor="end" class="sa ax">50%</text>
<line x1="176.3" x2="181.9" y1="322.9" y2="322.9" stroke="#333" stroke-width="2.2"/>
<text x="171.6" y="329.8" text-anchor="end" class="sa ax">75%</text>
<line x1="176.3" x2="181.9" y1="220" y2="220" stroke="#333" stroke-width="2.2"/>
<text x="171.6" y="226.9" text-anchor="end" class="sa ax">100%</text>
<line x1="273" x2="273" y1="651" y2="656.6" stroke="#333" stroke-width="2.2"/>
<text x="273" y="675.1" text-anchor="middle" class="sa ax">Canada</text>
<line x1="425.57" x2="425.57" y1="651" y2="656.6" stroke="#333" stroke-width="2.2"/>
<text x="425.57" y="675.1" text-anchor="middle" class="sa ax">Germany</text>
<line x1="578.13" x2="578.13" y1="651" y2="656.6" stroke="#333" stroke-width="2.2"/>
<text x="578.13" y="675.1" text-anchor="middle" class="sa ax">United Kingdom</text>
<line x1="730.7" x2="730.7" y1="651" y2="656.6" stroke="#333" stroke-width="2.2"/>
<text x="730.7" y="675.1" text-anchor="middle" class="sa ax">United States</text>
<text transform="translate(110.6 431.7) rotate(-90)" text-anchor="middle" class="sa" style="font-size:23px;fill:#000">Purity</text>
<rect x="323.5" y="143.5" width="33.5" height="33.5" fill="#f2f2f2"/>
<path d="M340.25 145.2V151.5M340.25 168.6V175.3" stroke="#333" stroke-width="2.1"/>
<rect x="326.85" y="151.5" width="26.8" height="17.1" fill="#F8766D" stroke="#333" stroke-width="2.1"/>
<line x1="326.85" x2="353.65" y1="160.1" y2="160.1" stroke="#333" stroke-width="2.1"/>
<circle cx="340.25" cy="160.2" r="4.1" fill="#000" fill-opacity="0.2" stroke="#000" stroke-opacity="0.2"/>
<text x="370" y="166.7" class="sa" style="font-size:18.7px;fill:#000">Cryptomarkets</text>
<rect x="501.2" y="143.5" width="33.5" height="33.5" fill="#f2f2f2"/>
<path d="M517.95 145.2V151.5M517.95 168.6V175.3" stroke="#333" stroke-width="2.1"/>
<rect x="504.55" y="151.5" width="26.8" height="17.1" fill="#00BFC4" stroke="#333" stroke-width="2.1"/>
<line x1="504.55" x2="531.35" y1="160.1" y2="160.1" stroke="#333" stroke-width="2.1"/>
<circle cx="517.95" cy="160.2" r="4.1" fill="#000" fill-opacity="0.2" stroke="#000" stroke-opacity="0.2"/>
<text x="547.7" y="166.7" class="sa" style="font-size:18.7px;fill:#000">No cryptomarkets</text>
</g>
<g id="fig8">
<rect x="166" y="898.9" width="257.1" height="29.95" fill="#d9d9d9"/>
<text x="294.55" y="919.2" text-anchor="middle" class="sa" style="font-size:15.6px;fill:#1a1a1a">Canada</text>
<rect x="166" y="928.85" width="257.1" height="181.25" fill="#ebebeb"/>
<line x1="166" x2="423.1" y1="1081.26" y2="1081.26" stroke="#fff" stroke-width="0.9"/>
<line x1="166" x2="423.1" y1="1040.07" y2="1040.07" stroke="#fff" stroke-width="0.9"/>
<line x1="166" x2="423.1" y1="998.88" y2="998.88" stroke="#fff" stroke-width="0.9"/>
<line x1="166" x2="423.1" y1="957.69" y2="957.69" stroke="#fff" stroke-width="0.9"/>
<line x1="166" x2="423.1" y1="1101.85" y2="1101.85" stroke="#fff" stroke-width="1.8"/>
<line x1="166" x2="423.1" y1="1060.66" y2="1060.66" stroke="#fff" stroke-width="1.8"/>
<line x1="166" x2="423.1" y1="1019.47" y2="1019.47" stroke="#fff" stroke-width="1.8"/>
<line x1="166" x2="423.1" y1="978.29" y2="978.29" stroke="#fff" stroke-width="1.8"/>
<line x1="166" x2="423.1" y1="937.1" y2="937.1" stroke="#fff" stroke-width="1.8"/>
<line x1="235.85" x2="235.85" y1="928.85" y2="1110.1" stroke="#fff" stroke-width="1.8"/>
<line x1="352.8" x2="352.8" y1="928.85" y2="1110.1" stroke="#fff" stroke-width="1.8"/>
<rect x="194.75" y="937.1" width="82.2" height="125.21" fill="#F8766D"/>
<rect x="194.75" y="1062.31" width="82.2" height="39.54" fill="#00BFC4"/>
<text x="235.85" y="1006.5" text-anchor="middle" class="sa" style="font-size:19.3px;fill:#000">76%</text>
<text x="235.85" y="1088.88" text-anchor="middle" class="sa" style="font-size:19.3px;fill:#000">24%</text>
<rect x="311.7" y="937.1" width="82.2" height="125.21" fill="#F8766D"/>
<rect x="311.7" y="1062.31" width="82.2" height="39.54" fill="#00BFC4"/>
<text x="352.8" y="1006.5" text-anchor="middle" class="sa" style="font-size:19.3px;fill:#000">76%</text>
<text x="352.8" y="1088.88" text-anchor="middle" class="sa" style="font-size:19.3px;fill:#000">24%</text>
<line x1="161.2" x2="166" y1="1101.85" y2="1101.85" stroke="#333" stroke-width="1.8"/>
<text x="157.2" y="1107.05" text-anchor="end" class="sa ax8">0%</text>
<line x1="161.2" x2="166" y1="1060.66" y2="1060.66" stroke="#333" stroke-width="1.8"/>
<text x="157.2" y="1065.86" text-anchor="end" class="sa ax8">25%</text>
<line x1="161.2" x2="166" y1="1019.47" y2="1019.47" stroke="#333" stroke-width="1.8"/>
<text x="157.2" y="1024.67" text-anchor="end" class="sa ax8">50%</text>
<line x1="161.2" x2="166" y1="978.29" y2="978.29" stroke="#333" stroke-width="1.8"/>
<text x="157.2" y="983.49" text-anchor="end" class="sa ax8">75%</text>
<line x1="161.2" x2="166" y1="937.1" y2="937.1" stroke="#333" stroke-width="1.8"/>
<text x="157.2" y="942.3" text-anchor="end" class="sa ax8">100%</text>
<rect x="432.65" y="898.9" width="257.1" height="29.95" fill="#d9d9d9"/>
<text x="561.2" y="919.2" text-anchor="middle" class="sa" style="font-size:15.6px;fill:#1a1a1a">Germany</text>
<rect x="432.65" y="928.85" width="257.1" height="181.25" fill="#ebebeb"/>
<line x1="432.65" x2="689.75" y1="1081.26" y2="1081.26" stroke="#fff" stroke-width="0.9"/>
<line x1="432.65" x2="689.75" y1="1040.07" y2="1040.07" stroke="#fff" stroke-width="0.9"/>
<line x1="432.65" x2="689.75" y1="998.88" y2="998.88" stroke="#fff" stroke-width="0.9"/>
<line x1="432.65" x2="689.75" y1="957.69" y2="957.69" stroke="#fff" stroke-width="0.9"/>
<line x1="432.65" x2="689.75" y1="1101.85" y2="1101.85" stroke="#fff" stroke-width="1.8"/>
<line x1="432.65" x2="689.75" y1="1060.66" y2="1060.66" stroke="#fff" stroke-width="1.8"/>
<line x1="432.65" x2="689.75" y1="1019.47" y2="1019.47" stroke="#fff" stroke-width="1.8"/>
<line x1="432.65" x2="689.75" y1="978.29" y2="978.29" stroke="#fff" stroke-width="1.8"/>
<line x1="432.65" x2="689.75" y1="937.1" y2="937.1" stroke="#fff" stroke-width="1.8"/>
<line x1="502.5" x2="502.5" y1="928.85" y2="1110.1" stroke="#fff" stroke-width="1.8"/>
<line x1="619.45" x2="619.45" y1="928.85" y2="1110.1" stroke="#fff" stroke-width="1.8"/>
<rect x="461.4" y="937.1" width="82.2" height="95.88" fill="#F8766D"/>
<rect x="461.4" y="1032.98" width="82.2" height="68.87" fill="#00BFC4"/>
<text x="502.5" y="991.84" text-anchor="middle" class="sa" style="font-size:19.3px;fill:#000">58%</text>
<text x="502.5" y="1074.22" text-anchor="middle" class="sa" style="font-size:19.3px;fill:#000">42%</text>
<rect x="578.35" y="937.1" width="82.2" height="99.84" fill="#F8766D"/>
<rect x="578.35" y="1036.94" width="82.2" height="64.91" fill="#00BFC4"/>
<text x="619.45" y="993.82" text-anchor="middle" class="sa" style="font-size:19.3px;fill:#000">61%</text>
<text x="619.45" y="1076.19" text-anchor="middle" class="sa" style="font-size:19.3px;fill:#000">39%</text>
<rect x="166" y="1120" width="257.1" height="29.95" fill="#d9d9d9"/>
<text x="294.55" y="1140.3" text-anchor="middle" class="sa" style="font-size:15.6px;fill:#1a1a1a">United Kingdom</text>
<rect x="166" y="1149.95" width="257.1" height="181.25" fill="#ebebeb"/>
<line x1="166" x2="423.1" y1="1302.36" y2="1302.36" stroke="#fff" stroke-width="0.9"/>
<line x1="166" x2="423.1" y1="1261.17" y2="1261.17" stroke="#fff" stroke-width="0.9"/>
<line x1="166" x2="423.1" y1="1219.98" y2="1219.98" stroke="#fff" stroke-width="0.9"/>
<line x1="166" x2="423.1" y1="1178.79" y2="1178.79" stroke="#fff" stroke-width="0.9"/>
<line x1="166" x2="423.1" y1="1322.95" y2="1322.95" stroke="#fff" stroke-width="1.8"/>
<line x1="166" x2="423.1" y1="1281.76" y2="1281.76" stroke="#fff" stroke-width="1.8"/>
<line x1="166" x2="423.1" y1="1240.58" y2="1240.58" stroke="#fff" stroke-width="1.8"/>
<line x1="166" x2="423.1" y1="1199.39" y2="1199.39" stroke="#fff" stroke-width="1.8"/>
<line x1="166" x2="423.1" y1="1158.2" y2="1158.2" stroke="#fff" stroke-width="1.8"/>
<line x1="235.85" x2="235.85" y1="1149.95" y2="1331.2" stroke="#fff" stroke-width="1.8"/>
<line x1="352.8" x2="352.8" y1="1149.95" y2="1331.2" stroke="#fff" stroke-width="1.8"/>
<rect x="194.75" y="1158.2" width="82.2" height="119.44" fill="#F8766D"/>
<rect x="194.75" y="1277.64" width="82.2" height="45.31" fill="#00BFC4"/>
<text x="235.85" y="1224.72" text-anchor="middle" class="sa" style="font-size:19.3px;fill:#000">72%</text>
<text x="235.85" y="1307.1" text-anchor="middle" class="sa" style="font-size:19.3px;fill:#000">28%</text>
<rect x="311.7" y="1158.2" width="82.2" height="109.56" fill="#F8766D"/>
<rect x="311.7" y="1267.76" width="82.2" height="55.19" fill="#00BFC4"/>
<text x="352.8" y="1219.78" text-anchor="middle" class="sa" style="font-size:19.3px;fill:#000">66%</text>
<text x="352.8" y="1302.15" text-anchor="middle" class="sa" style="font-size:19.3px;fill:#000">34%</text>
<line x1="161.2" x2="166" y1="1322.95" y2="1322.95" stroke="#333" stroke-width="1.8"/>
<text x="157.2" y="1328.15" text-anchor="end" class="sa ax8">0%</text>
<line x1="161.2" x2="166" y1="1281.76" y2="1281.76" stroke="#333" stroke-width="1.8"/>
<text x="157.2" y="1286.96" text-anchor="end" class="sa ax8">25%</text>
<line x1="161.2" x2="166" y1="1240.58" y2="1240.58" stroke="#333" stroke-width="1.8"/>
<text x="157.2" y="1245.78" text-anchor="end" class="sa ax8">50%</text>
<line x1="161.2" x2="166" y1="1199.39" y2="1199.39" stroke="#333" stroke-width="1.8"/>
<text x="157.2" y="1204.59" text-anchor="end" class="sa ax8">75%</text>
<line x1="161.2" x2="166" y1="1158.2" y2="1158.2" stroke="#333" stroke-width="1.8"/>
<text x="157.2" y="1163.4" text-anchor="end" class="sa ax8">100%</text>
<line x1="235.85" x2="235.85" y1="1331.2" y2="1336" stroke="#333" stroke-width="1.8"/>
<text x="235.85" y="1350.9" text-anchor="middle" class="sa ax8">Cryptomarkets</text>
<line x1="352.8" x2="352.8" y1="1331.2" y2="1336" stroke="#333" stroke-width="1.8"/>
<text x="352.8" y="1350.9" text-anchor="middle" class="sa ax8">No cryptomarkets</text>
<rect x="432.65" y="1120" width="257.1" height="29.95" fill="#d9d9d9"/>
<text x="561.2" y="1140.3" text-anchor="middle" class="sa" style="font-size:15.6px;fill:#1a1a1a">United States</text>
<rect x="432.65" y="1149.95" width="257.1" height="181.25" fill="#ebebeb"/>
<line x1="432.65" x2="689.75" y1="1302.36" y2="1302.36" stroke="#fff" stroke-width="0.9"/>
<line x1="432.65" x2="689.75" y1="1261.17" y2="1261.17" stroke="#fff" stroke-width="0.9"/>
<line x1="432.65" x2="689.75" y1="1219.98" y2="1219.98" stroke="#fff" stroke-width="0.9"/>
<line x1="432.65" x2="689.75" y1="1178.79" y2="1178.79" stroke="#fff" stroke-width="0.9"/>
<line x1="432.65" x2="689.75" y1="1322.95" y2="1322.95" stroke="#fff" stroke-width="1.8"/>
<line x1="432.65" x2="689.75" y1="1281.76" y2="1281.76" stroke="#fff" stroke-width="1.8"/>
<line x1="432.65" x2="689.75" y1="1240.58" y2="1240.58" stroke="#fff" stroke-width="1.8"/>
<line x1="432.65" x2="689.75" y1="1199.39" y2="1199.39" stroke="#fff" stroke-width="1.8"/>
<line x1="432.65" x2="689.75" y1="1158.2" y2="1158.2" stroke="#fff" stroke-width="1.8"/>
<line x1="502.5" x2="502.5" y1="1149.95" y2="1331.2" stroke="#fff" stroke-width="1.8"/>
<line x1="619.45" x2="619.45" y1="1149.95" y2="1331.2" stroke="#fff" stroke-width="1.8"/>
<rect x="461.4" y="1158.2" width="82.2" height="98.85" fill="#F8766D"/>
<rect x="461.4" y="1257.05" width="82.2" height="65.9" fill="#00BFC4"/>
<text x="502.5" y="1214.42" text-anchor="middle" class="sa" style="font-size:19.3px;fill:#000">60%</text>
<text x="502.5" y="1296.8" text-anchor="middle" class="sa" style="font-size:19.3px;fill:#000">40%</text>
<rect x="578.35" y="1158.2" width="82.2" height="65.9" fill="#F8766D"/>
<rect x="578.35" y="1224.1" width="82.2" height="98.85" fill="#00BFC4"/>
<text x="619.45" y="1197.95" text-anchor="middle" class="sa" style="font-size:19.3px;fill:#000">40%</text>
<text x="619.45" y="1280.33" text-anchor="middle" class="sa" style="font-size:19.3px;fill:#000">60%</text>
<line x1="502.5" x2="502.5" y1="1331.2" y2="1336" stroke="#333" stroke-width="1.8"/>
<text x="502.5" y="1350.9" text-anchor="middle" class="sa ax8">Cryptomarkets</text>
<line x1="619.45" x2="619.45" y1="1331.2" y2="1336" stroke="#333" stroke-width="1.8"/>
<text x="619.45" y="1350.9" text-anchor="middle" class="sa ax8">No cryptomarkets</text>
<text x="718.8" y="1101.6" class="sa" style="font-size:18.9px;fill:#000">Adulterated</text>
<rect x="719.3" y="1116.3" width="27.7" height="27.6" fill="#F8766D"/>
<rect x="719.3" y="1146.3" width="27.7" height="27.6" fill="#00BFC4"/>
<text x="758.3" y="1135.2" class="sa" style="font-size:15.2px;fill:#000">No</text>
<text x="758.3" y="1164.9" class="sa" style="font-size:15.2px;fill:#000">Yes</text>
</g>
<g id="fig9">
<path d="M981.63 925.2 Q1244.5 1018.7 1338.45 1281.41 A279 279 0 0 0 1388.46 1257.69 Q1244.5 1018.7 1005.27 875.14 A279 279 0 0 0 981.63 925.2Z" fill="#ffa500" fill-opacity="0.5"/>
<path d="M968.35 978.94 Q1244.5 1018.7 1279.9 1295.44 A279 279 0 0 0 1333.85 1283.01 Q1244.5 1018.7 981.63 925.2 A279 279 0 0 0 968.35 978.94Z" fill="#ffa500" fill-opacity="0.5"/>
<path d="M965.93 1034.24 Q1244.5 1018.7 1109.79 1263.02 A279 279 0 0 0 1160.68 1284.81 Q1244.5 1018.7 968.35 978.94 A279 279 0 0 0 965.93 1034.24Z" fill="#ffa500" fill-opacity="0.5"/>
<path d="M974.49 1088.94 Q1244.5 1018.7 965.93 1034.24 A279 279 0 0 0 974.49 1088.94Z" fill="#ffa500" fill-opacity="0.5"/>
<path d="M1275.07 1296.02 Q1244.5 1018.7 1219.71 1296.6 A279 279 0 0 0 1275.07 1296.02Z" fill="#00ff00" fill-opacity="0.5"/>
<path d="M1105.54 1260.63 Q1244.5 1018.7 1472.59 1179.37 A279 279 0 0 0 1523.46 1023.57 Q1244.5 1018.7 993.67 1140.86 A279 279 0 0 0 1105.54 1260.63Z" fill="#ffa500" fill-opacity="0.5"/>
<path d="M1439.89 819.54 Q1244.5 1018.7 1392.61 1255.14 A279 279 0 0 0 1472.59 1179.37 Q1244.5 1018.7 1501.75 910.7 A279 279 0 0 0 1439.89 819.54Z" fill="#0000ff" fill-opacity="0.5"/>
<path d="M1214.87 1296.12 Q1244.5 1018.7 1523.5 1018.7 A279 279 0 0 0 1518.01 963.62 Q1244.5 1018.7 1160.68 1284.81 A279 279 0 0 0 1214.87 1296.12Z" fill="#ff0000" fill-opacity="0.5"/>
<path d="M993.67 1140.86 Q1244.5 1018.7 1518.01 963.62 A279 279 0 0 0 1501.75 910.7 Q1244.5 1018.7 974.49 1088.94 A279 279 0 0 0 993.67 1140.86Z" fill="#ffa500" fill-opacity="0.5"/>
<path d="M1007.81 870.99 Q1244.5 1018.7 1439.89 819.54 A279 279 0 0 0 1007.81 870.99Z" fill="#0000ff" fill-opacity="0.5"/>
<path d="M1540.75 1023.87 A296.3 296.3 0 0 1 1401.8 1269.8 L1395.91 1260.39 A285.2 285.2 0 0 0 1529.66 1023.68 Z" fill="#bebebe"/>
<path d="M1397.39 1272.51 A296.3 296.3 0 0 1 1344.27 1297.7 L1340.53 1287.25 A285.2 285.2 0 0 0 1391.66 1263 Z" fill="#bebebe"/>
<path d="M1339.39 1299.4 A296.3 296.3 0 0 1 1282.1 1312.6 L1280.69 1301.59 A285.2 285.2 0 0 0 1335.83 1288.88 Z" fill="#bebebe"/>
<path d="M1276.96 1313.22 A296.3 296.3 0 0 1 1218.18 1313.83 L1219.16 1302.77 A285.2 285.2 0 0 0 1275.75 1302.18 Z" fill="#00ff00"/>
<path d="M1213.03 1313.32 A296.3 296.3 0 0 1 1101.43 1278.17 L1106.79 1268.45 A285.2 285.2 0 0 0 1214.21 1302.29 Z" fill="#ff0000"/>
<path d="M1096.93 1275.64 A296.3 296.3 0 0 1 990.44 866.24 L999.95 871.95 A285.2 285.2 0 0 0 1102.46 1266.01 Z" fill="#ffa500"/>
<path d="M993.13 861.83 A296.3 296.3 0 0 1 1540.8 1018.7 L1529.7 1018.7 A285.2 285.2 0 0 0 1002.55 867.7 Z" fill="#0000ff"/>
<defs>
<path id="ctop" d="M928 1018.7 A316.5 316.5 0 1 1 1561 1018.7 A316.5 316.5 0 1 1 928 1018.7"/>
</defs>
<text transform="translate(1532.68 1181.53) rotate(-60.53)" text-anchor="middle" class="sa" style="font-size:19px;fill:#000">United Kingdom</text>
<text transform="translate(1386.33 1317.78) rotate(-25.37)" text-anchor="middle" class="sa" style="font-size:19px;fill:#000">Austria</text>
<text transform="translate(1318.87 1341.24) rotate(-12.98)" text-anchor="middle" class="sa" style="font-size:19px;fill:#000">Canada</text>
<text transform="translate(1247.95 1349.68) rotate(-0.6)" text-anchor="middle" class="sa" style="font-size:19px;fill:#000">Norway</text>
<text transform="translate(1145.06 1334.41) rotate(17.48)" text-anchor="middle" class="sa" style="font-size:19px;fill:#000">Germany</text>
<text transform="translate(924.16 1102.03) rotate(75.42)" text-anchor="middle" class="sa" style="font-size:19px;fill:#000">Netherlands</text>
<text transform="translate(1331.65 714.44) rotate(375.98)" text-anchor="middle" class="sa" style="font-size:19px;fill:#000">United States</text>
</g>
<g id="txt" class="se">
<text x="869.3" y="133" class="se c10" style="word-spacing:8.24px">Table VIII: Percentage of adulterated samples that contain</text>
<text x="869.3" y="168.6" class="se c10">levamisole and its concentration per vendor country.</text>
<rect x="869.3" y="197.7" width="750.4" height="2.4" fill="#000"/>
<rect x="869.3" y="300.2" width="750.4" height="1.5" fill="#000"/>
<rect x="869.3" y="572.8" width="750.4" height="2.4" fill="#000"/>
<text x="869.3" y="231.4" class="se c8">Country</text>
<text x="1068.3" y="231.4" class="se c8">Market</text>
<text x="1277.3" y="231.4" class="se c8">Levamisole</text>
<text x="1435.6" y="231.4" class="se c8">Mean</text>
<text x="1435.6" y="258.4" class="se c8">concentration</text>
<path d="M1436.8 284.8H1453.9M1436.8 277.3H1453.9M1445.35 269.1V284.8" stroke="#000" stroke-width="1.2" fill="none"/>
<text x="1463.56" y="285.2" class="se c8">SD</text>
<text x="869.3" y="332.3" class="se c8">Canada</text>
<text x="1068.3" y="332.3" class="se c8">Cryptomarkets</text>
<text x="1277.3" y="332.3" class="se c8">50% (3/6)</text>
<text x="1435.6" y="332.3" class="se c8">5</text>
<path d="M1457 331.9H1474.1M1457 324.4H1474.1M1465.55 316.2V331.9" stroke="#000" stroke-width="1.2" fill="none"/>
<text x="1483.76" y="332.3" class="se c8">18%</text>
<text x="869.3" y="364.5" class="se c8">Canada</text>
<text x="1068.3" y="364.5" class="se c8">No cryptomarkets</text>
<text x="1277.3" y="364.5" class="se c8">40% (2/5)</text>
<text x="1435.6" y="364.5" class="se c8">6</text>
<path d="M1457 364.1H1474.1M1457 356.6H1474.1M1465.55 348.4V364.1" stroke="#000" stroke-width="1.2" fill="none"/>
<text x="1483.76" y="364.5" class="se c8">17%</text>
<text x="869.3" y="396.7" class="se c8">Germany</text>
<text x="1068.3" y="396.7" class="se c8">Cryptomarkets</text>
<text x="1277.3" y="396.7" class="se c8">56% (10/18)</text>
<text x="1435.6" y="396.7" class="se c8">7</text>
<path d="M1457 396.3H1474.1M1457 388.8H1474.1M1465.55 380.6V396.3" stroke="#000" stroke-width="1.2" fill="none"/>
<text x="1483.76" y="396.7" class="se c8">20%</text>
<text x="869.3" y="428.9" class="se c8">Germany</text>
<text x="1068.3" y="428.9" class="se c8">No cryptomarkets</text>
<text x="1277.3" y="428.9" class="se c8">47% (7/15)</text>
<text x="1435.6" y="428.9" class="se c8">4</text>
<path d="M1457 428.5H1474.1M1457 421H1474.1M1465.55 412.8V428.5" stroke="#000" stroke-width="1.2" fill="none"/>
<text x="1483.76" y="428.9" class="se c8">11%</text>
<text x="869.3" y="461.1" class="se c8">United Kingdom</text>
<text x="1068.3" y="461.1" class="se c8">Cryptomarkets</text>
<text x="1277.3" y="461.1" class="se c8">61% (22/36)</text>
<text x="1435.6" y="461.1" class="se c8">5</text>
<path d="M1457 460.7H1474.1M1457 453.2H1474.1M1465.55 445V460.7" stroke="#000" stroke-width="1.2" fill="none"/>
<text x="1483.76" y="461.1" class="se c8">17%</text>
<text x="869.3" y="493.3" class="se c8">United Kingdom</text>
<text x="1068.3" y="493.3" class="se c8">No cryptomarkets</text>
<text x="1277.3" y="493.3" class="se c8">55% (12/22)</text>
<text x="1435.6" y="493.3" class="se c8">2</text>
<path d="M1457 492.9H1474.1M1457 485.4H1474.1M1465.55 477.2V492.9" stroke="#000" stroke-width="1.2" fill="none"/>
<text x="1483.76" y="493.3" class="se c8">8%</text>
<text x="869.3" y="525.5" class="se c8">United States</text>
<text x="1068.3" y="525.5" class="se c8">Cryptomarkets</text>
<text x="1277.3" y="525.5" class="se c8">82% (32/39)</text>
<text x="1435.6" y="525.5" class="se c8">12</text>
<path d="M1468.9 525.1H1486M1468.9 517.6H1486M1477.45 509.4V525.1" stroke="#000" stroke-width="1.2" fill="none"/>
<text x="1495.66" y="525.5" class="se c8">24%</text>
<text x="869.3" y="557.7" class="se c8">United States</text>
<text x="1068.3" y="557.7" class="se c8">No cryptomarkets</text>
<text x="1277.3" y="557.7" class="se c8">83% (24/29)</text>
<text x="1435.6" y="557.7" class="se c8">20</text>
<path d="M1468.9 557.3H1486M1468.9 549.8H1486M1477.45 541.6V557.3" stroke="#000" stroke-width="1.2" fill="none"/>
<text x="1495.66" y="557.7" class="se c8">29%</text>
<text x="905.1" y="601.9" class="se c8">Dataset:</text>
<text transform="translate(997.8 601.9) scale(1 1)" text-anchor="middle" class="se" style="font-size:20.2px;fill:#333">E</text>
<text transform="translate(1012.1 601.9) scale(0.95 1)" text-anchor="middle" class="se" style="font-size:20.2px;fill:#333">C</text>
<text x="1019.4" y="601.9" class="se c8">.</text>
<text x="83.6" y="755.5" class="se c8">Dataset:</text>
<text transform="translate(176.3 755.5) scale(1 1)" text-anchor="middle" class="se" style="font-size:20.2px;fill:#333">E</text>
<text transform="translate(190.6 755.5) scale(0.95 1)" text-anchor="middle" class="se" style="font-size:20.2px;fill:#333">C</text>
<text x="197.9" y="755.5" class="se c8">.</text>
<text x="83.6" y="1425.5" class="se c8">Dataset:</text>
<text transform="translate(176.3 1425.5) scale(1 1)" text-anchor="middle" class="se" style="font-size:20.2px;fill:#333">E</text>
<text transform="translate(190.6 1425.5) scale(0.95 1)" text-anchor="middle" class="se" style="font-size:20.2px;fill:#333">C</text>
<text x="197.9" y="1425.5" class="se c8">.</text>
<text x="869.3" y="1428.6" class="se c8">Dataset:</text>
<text transform="translate(962 1428.6) scale(0.88 1)" text-anchor="middle" class="se" style="font-size:20.2px;fill:#333">D</text>
<text transform="translate(976.28 1428.6) scale(0.88 1)" text-anchor="middle" class="se" style="font-size:20.2px;fill:#333">N</text>
<text transform="translate(990.56 1428.6) scale(0.71 1)" text-anchor="middle" class="se" style="font-size:20.2px;fill:#333">M</text>
<text transform="translate(1004.84 1428.6) scale(0.88 1)" text-anchor="middle" class="se" style="font-size:20.2px;fill:#333">A</text>
<text x="1013.3" y="1428.6" class="se c8">,</text>
<text transform="translate(1034 1428.6) scale(1 1)" text-anchor="middle" class="se" style="font-size:20.2px;fill:#333">E</text>
<text transform="translate(1048.3 1428.6) scale(0.95 1)" text-anchor="middle" class="se" style="font-size:20.2px;fill:#333">C</text>
<text x="1056.1" y="1428.6" class="se c8">.</text>
<text x="83.6" y="799" class="se c10" style="word-spacing:1.75px">Figure 7: Difference in purity between samples from different</text>
<text x="83.6" y="834.6" class="se c10">countries.</text>
<text x="83.6" y="1467.9" class="se c10" style="word-spacing:7.47px">Figure 8: Difference in adulteration between samples from</text>
<text x="83.6" y="1503.5" class="se c10">different countries.</text>
<text x="869.3" y="1475.1" class="se c10" style="word-spacing:3.41px">Figure 9: Countries of origin and destination of the analyzed</text>
<text x="869.3" y="1510.8" class="se c10">samples</text>
<text x="976.7" y="1511.8" class="se" style="font-size:34px">(</text>
<text x="987.6" y="1510.8" class="se" style="font-size:32.5px;font-style:italic">n</text>
<path d="M1014.9 1499.9H1034.9M1014.9 1506.4H1034.9" stroke="#000" stroke-width="1.3" fill="none"/>
<text x="1044.5" y="1510.8" class="se c10">25</text>
<text x="1074.9" y="1511.8" class="se" style="font-size:34px">)</text>
<text x="1085.6" y="1510.8" class="se c10">.</text>
</g>
</svg></body></html>
